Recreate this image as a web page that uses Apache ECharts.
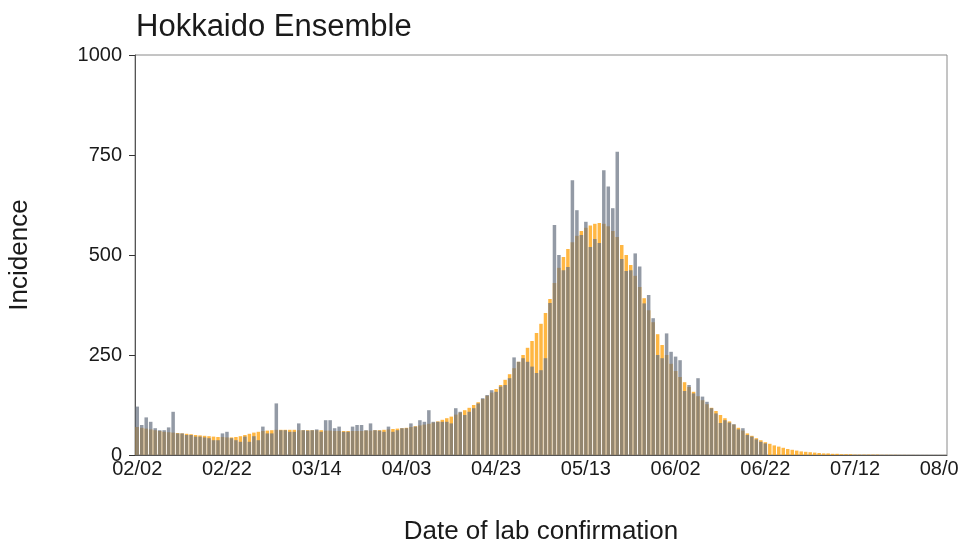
<!DOCTYPE html>
<html>
<head>
<meta charset="utf-8">
<script src="https://cdn.jsdelivr.net/npm/echarts@6/dist/echarts.min.js"></script>
<style>
  html, body { margin: 0; padding: 0; background: #fff; }
  #chart { width: 960px; height: 547px; }
</style>
</head>
<body>
<div id="chart"></div>
<script>
// daily values from 02/02 (day 0) to 08/01 (day 180)
const tickLabels = ['02/02', '02/22', '03/14', '04/03', '04/23', '05/13', '06/02', '06/22', '07/12', '08/01'];

const ensemble = [
  70, 68, 66, 64, 62, 60, 58, 57, 56, 55,
  54, 53, 52, 50, 49, 48, 47, 46, 45, 45,
  44, 44, 45, 47, 50, 53, 56, 58, 60, 61,
  62, 63, 63, 63, 63, 63, 62, 62, 62, 62,
  62, 62, 61, 61, 60, 60, 60, 60, 60, 60,
  60, 61, 61, 62, 62, 63, 64, 65, 66, 67,
  68, 70, 72, 74, 76, 78, 81, 84, 88, 92,
  96, 101, 106, 112, 118, 125, 132, 140, 148, 156,
  165, 175, 188, 202, 217, 233, 250, 268, 285, 305,
  328, 355, 390, 430, 468, 495, 515, 532, 548, 560,
  568, 574, 578, 580, 578, 572, 560, 545, 525, 500,
  475, 448, 420, 392, 362, 332, 302, 275, 250, 228,
  210, 195, 182, 170, 158, 147, 137, 127, 118, 110,
  100, 92, 84, 76, 68, 61, 54, 48, 42, 37,
  32, 28, 24, 21, 18, 15, 13, 11, 9, 8,
  7, 6, 5, 4, 4, 3, 3, 2, 2, 2,
  1, 1, 1, 1, 1, 1, 0.5, 0.5, 0.5, 0.5,
  0.3, 0.3, 0.2, 0.2, 0.1, 0.1, 0.1, 0.1, 0.1, 0.1,
  0.1
];

const observed = [
  121, 75, 94, 83, 67, 62, 62, 69, 108, 54,
  54, 50, 50, 46, 46, 44, 42, 37, 37, 54,
  58, 42, 37, 33, 46, 33, 47, 37, 71, 54,
  54, 129, 62, 62, 58, 58, 79, 62, 61, 62,
  64, 58, 87, 87, 67, 71, 58, 58, 71, 75,
  75, 62, 79, 62, 61, 58, 71, 58, 62, 67,
  67, 79, 71, 87, 83, 112, 83, 83, 83, 83,
  79, 117, 108, 100, 108, 117, 129, 142, 150, 162,
  158, 171, 175, 192, 244, 233, 242, 233, 221, 205,
  212, 242, 380, 575, 500, 462, 470, 687, 612, 550,
  583, 520, 540, 530, 712, 671, 617, 758, 490, 460,
  462, 504, 471, 379, 400, 342, 250, 242, 304, 258,
  246, 237, 160, 175, 154, 192, 146, 133, 117, 104,
  80, 87, 81, 77, 64, 67, 50, 46, 39, 33,
  29
];

const dates = [];
const start = new Date(2021, 1, 2);
for (let i = 0; i < ensemble.length; i++) {
  const d = new Date(start.getFullYear(), start.getMonth(), start.getDate() + i);
  dates.push(String(d.getMonth() + 1).padStart(2, '0') + '/' + String(d.getDate()).padStart(2, '0'));
}

const font = 'Liberation Sans, Arial, Helvetica, sans-serif';
const chart = echarts.init(document.getElementById('chart'), null, { renderer: 'canvas' });

const tickEvery = (idx) => tickLabels.includes(dates[idx]);

chart.setOption({
  animation: false,
  backgroundColor: '#fff',
  title: {
    text: 'Hokkaido Ensemble',
    left: 131,
    top: 7,
    textStyle: { fontFamily: font, fontSize: 31, fontWeight: 'normal', color: '#1a1a1a' }
  },
  grid: {
    left: 135, right: 13, top: 55, bottom: 92,
    containLabel: false,
    outerBoundsMode: 'none',
    show: true, borderColor: '#8a8a8a', borderWidth: 1, backgroundColor: 'transparent'
  },
  xAxis: {
    type: 'category',
    data: dates,
    name: 'Date of lab confirmation',
    nameLocation: 'middle',
    nameGap: 64,
    nameTextStyle: { fontFamily: font, fontSize: 26, color: '#1a1a1a' },
    axisLine: { lineStyle: { color: '#555', width: 1 } },
    axisTick: { alignWithLabel: true, interval: tickEvery, length: 5, lineStyle: { color: '#333' } },
    axisLabel: { interval: tickEvery, fontFamily: font, fontSize: 20, color: '#1a1a1a', margin: 4 },
    splitLine: { show: false }
  },
  yAxis: {
    type: 'value',
    min: 0, max: 1000, interval: 250,
    name: 'Incidence',
    nameLocation: 'middle',
    nameGap: 102,
    nameRotate: 90,
    nameTextStyle: { fontFamily: font, fontSize: 26, color: '#1a1a1a' },
    axisLine: { show: true, lineStyle: { color: '#555', width: 1 } },
    axisTick: { show: true, length: 6, lineStyle: { color: '#333' } },
    axisLabel: { fontFamily: font, fontSize: 20, color: '#1a1a1a', margin: 13, formatter: (v) => String(v) },
    splitLine: { show: false }
  },
  series: [
    {
      name: 'Ensemble',
      type: 'bar',
      data: ensemble,
      barCategoryGap: '22%',
      itemStyle: { color: 'rgba(255, 165, 20, 0.8)' }
    },
    {
      name: 'Observed',
      type: 'bar',
      data: observed,
      barGap: '-100%',
      barCategoryGap: '22%',
      itemStyle: { color: 'rgba(105, 115, 130, 0.72)' }
    }
  ]
});
</script>
</body>
</html>
